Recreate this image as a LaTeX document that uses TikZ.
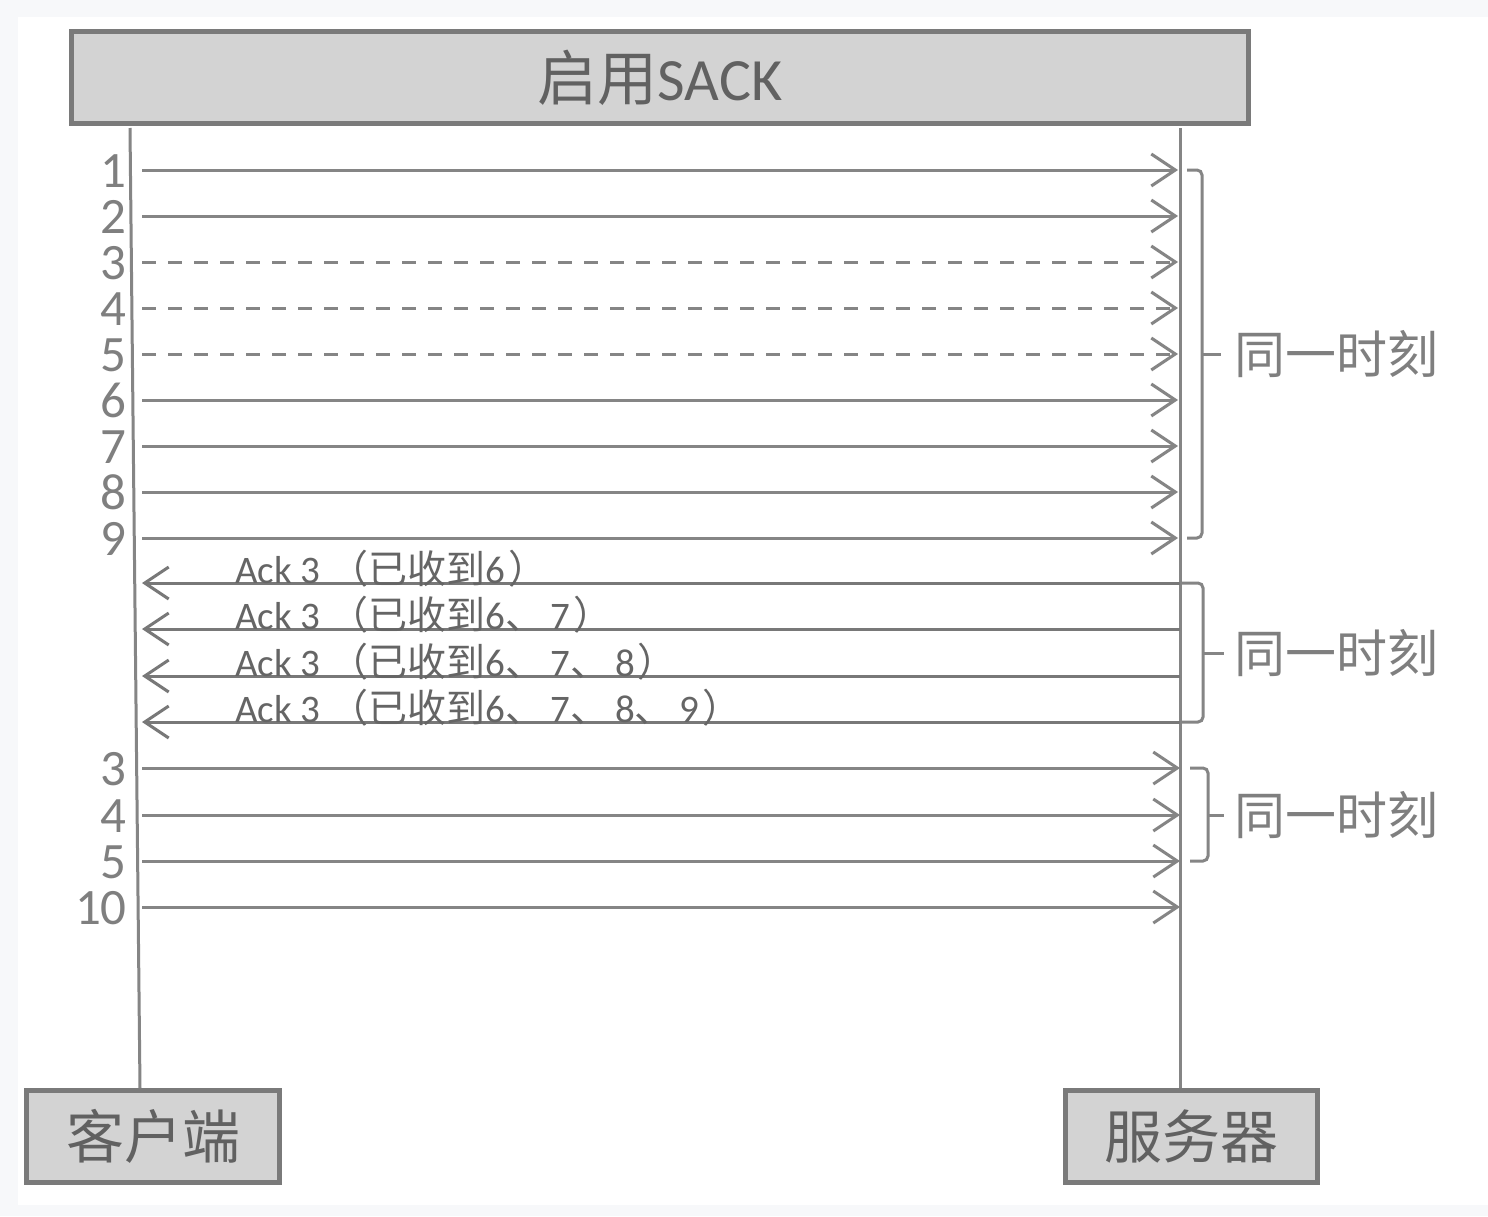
\documentclass[tikz,border=0pt]{standalone}
\usepackage{fontspec}
\setmainfont{Carlito}
\newfontfamily\cjk{Noto Sans CJK SC}
\usetikzlibrary{arrows.meta}
\definecolor{linegray}{HTML}{858585}
\definecolor{boxfill}{HTML}{D3D3D3}
\definecolor{boxedge}{HTML}{7A7A7A}
\definecolor{txtgray}{HTML}{7F7F7F}
\definecolor{acktxt}{HTML}{656565}
\definecolor{bggray}{HTML}{F7F8FA}
\newcommand{\dunhao}{{\cjk 、}\hspace{6pt}}
\begin{document}
\begin{tikzpicture}[x=1pt,y=-1pt,
  headbox/.style={draw=boxedge,fill=boxfill,line width=5pt,inner sep=0pt,text=black!62},
  msg/.style={draw=linegray,line width=3pt,-{Straight Barb[length=24pt,width=32pt]}},
  lostmsg/.style={msg,dash pattern=on 14pt off 12pt},
  ackmsg/.style={draw=linegray!90!black,line width=3pt,-{Straight Barb[length=24pt,width=32pt]}},
  life/.style={draw=linegray,line width=3pt},
  brk/.style={draw=linegray,line width=3pt,rounded corners=5pt},
  numlbl/.style={anchor=base east,inner sep=0pt,text=txtgray,font=\fontsize{51}{40}\selectfont},
  acklbl/.style={anchor=base west,inner sep=0pt,text=acktxt,font=\fontsize{39}{39}\selectfont},
  samelbl/.style={anchor=west,inner sep=0pt,text=txtgray,font=\fontsize{51}{51}\selectfont\cjk}]
\useasboundingbox (0,0) rectangle (1488,1216);
\fill[bggray] (0,0) rectangle (1488,1216);
\fill[white] (18,17) rectangle (1488,1205);

% boxes
\node[headbox,minimum width=1177pt,minimum height=92pt,font=\fontsize{60}{60}\selectfont] (title) at (660,77.5) {{\cjk 启用}SACK};
\node[headbox,minimum width=253pt,minimum height=92pt,font=\fontsize{58}{58}\selectfont\cjk] (client) at (153,1136.5) {客户端};
\node[headbox,minimum width=252pt,minimum height=92pt,font=\fontsize{58}{58}\selectfont\cjk] (server) at (1191.5,1136.5) {服务器};

% lifelines
\coordinate (cTop) at (130,128);
\coordinate (sTop) at (1180,128);
\draw[life] (cTop) -- (client.north -| 140,0);
\draw[life] (sTop) -- (server.north -| 1180,0);

% first burst
\foreach \n/\yy/\st in {1/170/msg,2/216/msg,3/262/lostmsg,4/308/lostmsg,5/354/lostmsg,6/400/msg,7/446/msg,8/492/msg,9/538/msg}{
  \node[numlbl] (n\n) at (127,\yy+17) {\n};
  \coordinate (a\n) at (142,\yy);
  \coordinate (b\n) at (1178,\yy);
  \draw[\st] (a\n) -- (b\n);
}

% acks
\foreach \k/\yy/\txt in {1/583/{6},2/629/{6\dunhao 7},3/676/{6\dunhao 7\dunhao 8},4/722/{6\dunhao 7\dunhao 8\dunhao 9}}{
  \coordinate (r\k) at (1180,\yy);
  \coordinate (l\k) at (142,\yy);
  \draw[ackmsg] (r\k) -- (l\k);
  \node[acklbl] (ack\k) at (235,\yy) {Ack 3\hspace{9pt}{\cjk （已收到}\txt\hspace{3pt}{\cjk ）}};
}

% retransmissions
\foreach \n/\nm/\yy in {3/r3/768,4/r4/815,5/r5/861,10/r10/907}{
  \node[numlbl] (m\nm) at (127,\yy+17) {\n};
  \coordinate (c\nm) at (142,\yy);
  \coordinate (d\nm) at (1180,\yy);
  \draw[msg] (c\nm) -- (d\nm);
}

% brackets
\draw[brk] (1187,170) -- (1202,170) -- (1202,538) -- (1187,538);
\draw[linegray,line width=3pt] (1202,354) -- (1221,354);
\node[samelbl] (same1) at (1234,354) {同一时刻};

\draw[brk] (1180,583) -- (1203,583) -- (1203,722) -- (1180,722);
\draw[linegray,line width=3pt] (1203,653) -- (1224,653);
\node[samelbl] (same2) at (1234,653) {同一时刻};

\draw[brk] (1190,768) -- (1208,768) -- (1208,861) -- (1190,861);
\draw[linegray,line width=3pt] (1208,815) -- (1224,815);
\node[samelbl] (same3) at (1234,815) {同一时刻};
\end{tikzpicture}
\end{document}
